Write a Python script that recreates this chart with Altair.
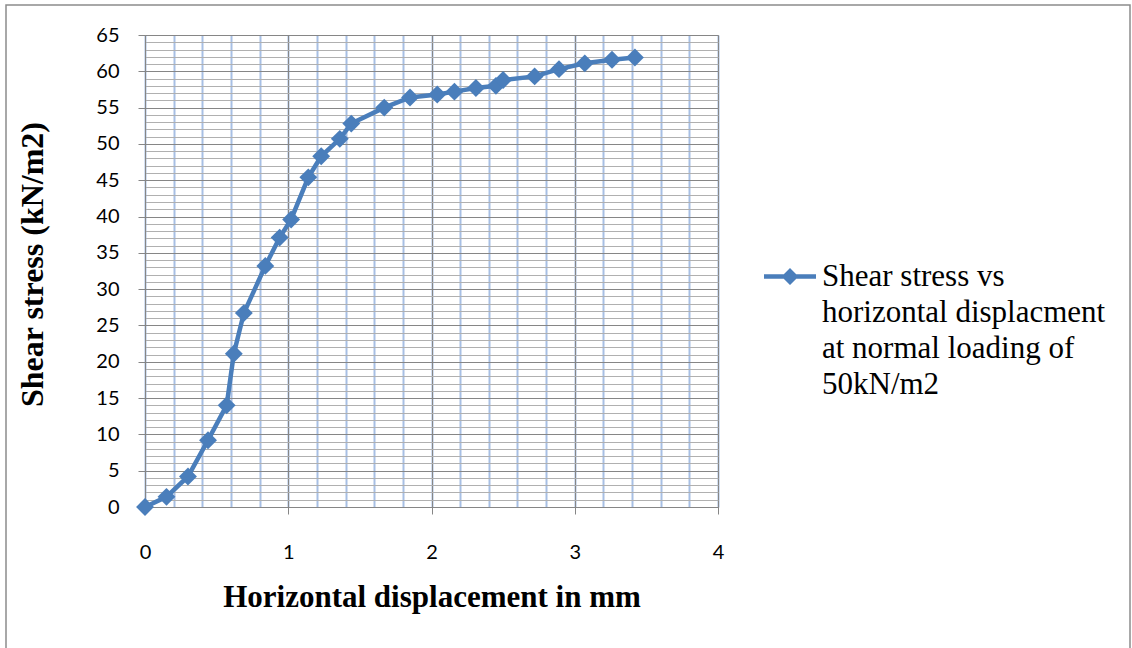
import altair as alt
import pandas as pd

# Data
displacement = [0, 0.15, 0.30, 0.44, 0.57, 0.62, 0.69, 0.84, 0.94, 1.02, 1.14, 1.23, 1.36,
                1.44, 1.67, 1.85, 2.04, 2.16, 2.31, 2.45, 2.50, 2.72, 2.89, 3.07, 3.26, 3.42]
shear = [0, 1.4, 4.2, 9.2, 14.0, 21.1, 26.7, 33.2, 37.1, 39.6, 45.4, 48.3, 50.7,
         52.8, 55.0, 56.4, 56.8, 57.2, 57.7, 58.0, 58.8, 59.3, 60.3, 61.1, 61.6, 61.9]
series_name = "Shear stress vs horizontal displacment at normal loading of 50kN/m2"
legend_lines = ["Shear stress vs", "horizontal displacment", "at normal loading of", "50kN/m2"]

x_major = [0, 1, 2, 3, 4]
x_minor = [round(i * 0.2, 1) for i in range(21)]
y_major = list(range(0, 66, 5))
y_minor = list(range(0, 66, 1))

df = pd.DataFrame({"x": displacement, "y": shear, "series": series_name})

BLUE = "#4a7ebb"
xs = alt.Scale(domain=[0, 4], nice=False)
ys = alt.Scale(domain=[0, 65], nice=False)

base = alt.Chart(df)

minor = base.mark_point(opacity=0).encode(
    x=alt.X("x:Q", scale=xs, axis=alt.Axis(
        values=x_minor, grid=True, gridColor="#a7bfe4", gridWidth=2,
        labels=False, ticks=False, domain=False, title=None, orient="bottom")),
    y=alt.Y("y:Q", scale=ys, axis=alt.Axis(
        values=y_minor, grid=True, gridColor="#b0b0b0", gridWidth=1.2,
        labels=False, ticks=False, domain=False, title=None, orient="left")),
)

major = base.mark_point(opacity=0).encode(
    x=alt.X("x:Q", scale=xs, axis=alt.Axis(
        values=x_major, grid=True, gridColor="#868686", gridWidth=1,
        domain=True, domainColor="#868686", tickColor="#868686", tickSize=7,
        labelFont="Lato", labelFontSize=20, labelColor="#000000", labelPadding=28,
        labelFlush=False,
        title="Horizontal displacement in mm", titleFont="Liberation Serif",
        titleFontSize=31, titleFontWeight="bold", titleColor="#000000", titlePadding=20,
        orient="bottom")),
    y=alt.Y("y:Q", scale=ys, axis=alt.Axis(
        values=y_major, grid=True, gridColor="#868686", gridWidth=1,
        domain=True, domainColor="#868686", tickColor="#868686", tickSize=7,
        labelFont="Lato", labelFontSize=20, labelColor="#000000", labelPadding=19,
        labelFlush=False,
        title="Shear stress  (kN/m2)", titleFont="Liberation Serif",
        titleFontSize=32, titleFontWeight="bold", titleColor="#000000", titlePadding=46,
        titleY=229, orient="left")),
)

line = base.mark_line(color=BLUE, strokeWidth=4.5).encode(
    x=alt.X("x:Q", scale=xs, axis=None), y=alt.Y("y:Q", scale=ys, axis=None),
)

legend_path = ("M-2.6,0.23 L2.6,0.23 L2.6,0.67 L-2.6,0.67 Z "
               "M0,-0.4 L0.85,0.45 L0,1.3 L-0.85,0.45 Z")

points = base.mark_point(shape="diamond", filled=True, size=320, opacity=1).encode(
    x=alt.X("x:Q", scale=xs, axis=None), y=alt.Y("y:Q", scale=ys, axis=None),
    color=alt.Color("series:N", scale=alt.Scale(range=[BLUE]), legend=alt.Legend(
        orient="none", legendX=635, legendY=227,
        title=legend_lines, titleOrient="right", titleFont="Liberation Serif",
        titleFontSize=31, titleFontWeight="normal", titleColor="#000000",
        titleLineHeight=36, titleBaseline="top", titleAnchor="start", titlePadding=6,
        titleLimit=600,
        labelExpr="''", symbolType=legend_path, symbolSize=400, symbolStrokeWidth=0,
        symbolOpacity=1)),
)

frame = alt.Chart(pd.DataFrame({"k": [0]})).mark_rect(
    fill=None, stroke="#8c8c8c", strokeWidth=1.5).encode(
    x=alt.value(-139), x2=alt.value(985), y=alt.value(-30), y2=alt.value(640))

chart = alt.layer(frame, minor, major, line, points).resolve_axis(
    x="independent", y="independent"
).properties(
    width=573, height=472,
    autosize=alt.AutoSizeParams(type="none"),
    padding={"left": 145, "top": 35, "right": 414, "bottom": 141},
).configure_view(stroke="#868686", strokeWidth=1)

chart.save("out.html", embed_options={"renderer": "svg", "actions": False})
